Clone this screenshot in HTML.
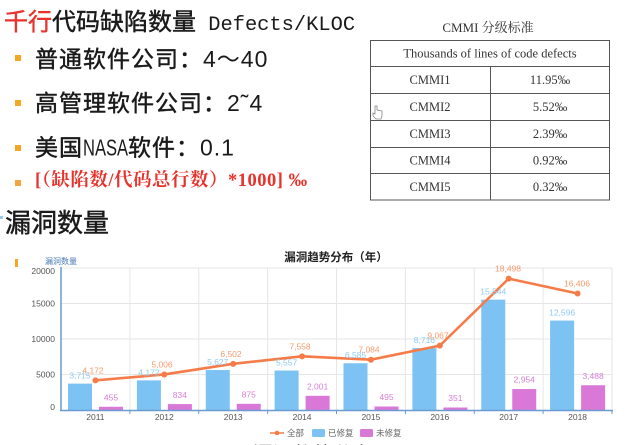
<!DOCTYPE html>
<html><head><meta charset="utf-8"><style>
html,body{margin:0;padding:0;background:#fff;}
body{width:626px;height:445px;overflow:hidden;position:relative;}
svg{display:block;}
</style></head><body>
<svg width="626" height="445" viewBox="0 0 626 445" xmlns="http://www.w3.org/2000/svg">
<rect width="626" height="445" fill="#fff"/>

<!-- Heading -->
<text x="4" y="30" font-size="24" stroke="#1a1a1a" stroke-width="0.45" font-family="'Noto Sans CJK SC', sans-serif" fill="#1a1a1a"><tspan fill="#e8322b" stroke="#e8322b">千行</tspan>代码缺陷数量<tspan font-family="'Liberation Mono', monospace" font-size="20.4" stroke="none"> Defects/KLOC</tspan></text>

<!-- bullets -->
<rect x="15" y="55" width="6" height="6" fill="#f5a623"/>
<rect x="15" y="100" width="6" height="6" fill="#f5a623"/>
<rect x="15" y="145" width="6" height="6" fill="#f5a623"/>
<rect x="15" y="180" width="6" height="6" fill="#f5a540"/>

<g font-size="23" letter-spacing="1" font-family="'Liberation Sans','Noto Sans CJK SC', sans-serif" fill="#1a1a1a">
<text x="35" y="67"><tspan stroke="#1a1a1a" stroke-width="0.45">普通软件公司：</tspan>4～40</text>
<text x="35" y="111"><tspan stroke="#1a1a1a" stroke-width="0.45">高管理软件公司：</tspan>2˜4</text>
<text x="35" y="155.5" stroke="#1a1a1a" stroke-width="0.45">美国</text>
<text x="128" y="155.5"><tspan stroke="#1a1a1a" stroke-width="0.45">软件：</tspan>0.1</text>
</g>
<text x="83" y="155.5" font-size="23" font-family="'Liberation Sans', sans-serif" fill="#1a1a1a" transform="translate(83 0) scale(0.72 1) translate(-83 0)">NASA</text>

<text x="35" y="186" font-size="18.5" font-weight="bold" letter-spacing="0.5" font-family="'Liberation Serif','Noto Serif CJK SC', serif" fill="#e8322b">[（缺陷数/代码总行数）*1000] ‰</text>

<rect x="0" y="216" width="3" height="3" fill="#9cc8e8"/>
<text x="5" y="232" font-size="26" stroke="#1a1a1a" stroke-width="0.45" font-family="'Noto Sans CJK SC', sans-serif" fill="#1a1a1a">漏洞数量</text>

<!-- Table -->
<text x="488" y="32" text-anchor="middle" font-size="13" font-family="'Liberation Serif','Noto Serif CJK SC', serif" fill="#333">CMMI 分级标准</text>
<g stroke="#555" stroke-width="1" fill="none">
<rect x="370.5" y="40.5" width="239" height="159.5"/>
<line x1="370" y1="66.5" x2="610" y2="66.5"/>
<line x1="370" y1="93.5" x2="610" y2="93.5"/>
<line x1="370" y1="120.5" x2="610" y2="120.5"/>
<line x1="370" y1="147.5" x2="610" y2="147.5"/>
<line x1="370" y1="173.5" x2="610" y2="173.5"/>
<line x1="490.5" y1="66" x2="490.5" y2="200"/>
</g>
<g font-family="'Liberation Serif', serif" fill="#333" font-size="12.5" text-anchor="middle">
<text x="490" y="57.5">Thousands of lines of code defects</text>
<text x="430" y="84">CMMI1</text><text x="550" y="84">11.95‰</text>
<text x="430" y="111">CMMI2</text><text x="550" y="111">5.52‰</text>
<text x="430" y="138">CMMI3</text><text x="550" y="138">2.39‰</text>
<text x="430" y="164.5">CMMI4</text><text x="550" y="164.5">0.92‰</text>
<text x="430" y="191">CMMI5</text><text x="550" y="191">0.32‰</text>
</g>
<!-- hand cursor -->
<path d="M375 106 L375 114 L373 113 L373 116 L376 119 L381 119 L382 116 L382 111 L377 110 L377 106 Z" fill="#fff" stroke="#888" stroke-width="0.8"/>

<!-- Chart -->
<rect x="15" y="259" width="3" height="8" fill="#f5a623"/>
<text x="45" y="264" font-size="8" font-family="'Liberation Sans','Noto Sans CJK SC', sans-serif" fill="#4a7ab5">漏洞数量</text>
<text x="336" y="261" text-anchor="middle" font-size="11.5" font-weight="bold" font-family="'Liberation Sans','Noto Sans CJK SC', sans-serif" fill="#222">漏洞趋势分布（年）</text>

<g stroke="#e6e6e6" stroke-width="1">
<line x1="61" y1="268" x2="612" y2="268"/>
<line x1="61" y1="303.5" x2="612" y2="303.5"/>
<line x1="61" y1="339" x2="612" y2="339"/>
<line x1="61" y1="374.5" x2="612" y2="374.5"/>
<line x1="129.9" y1="268" x2="129.9" y2="410"/>
<line x1="198.75" y1="268" x2="198.75" y2="410"/>
<line x1="267.6" y1="268" x2="267.6" y2="410"/>
<line x1="336.5" y1="268" x2="336.5" y2="410"/>
<line x1="405.4" y1="268" x2="405.4" y2="410"/>
<line x1="474.25" y1="268" x2="474.25" y2="410"/>
<line x1="543.1" y1="268" x2="543.1" y2="410"/>
<line x1="612" y1="268" x2="612" y2="410"/>
</g>

<g font-size="8.5" font-family="'Liberation Sans', sans-serif" fill="#555" text-anchor="end">
<text x="55" y="274">20000</text>
<text x="55" y="306.5">15000</text>
<text x="55" y="342">10000</text>
<text x="55" y="377.5">5000</text>
<text x="55" y="410">0</text>
</g>

<!-- bars blue -->
<g fill="#7cc3f4">
<rect x="68" y="383.62" width="24" height="26.38"/>
<rect x="136.9" y="380.38" width="24" height="29.62"/>
<rect x="205.75" y="370.05" width="24" height="39.95"/>
<rect x="274.6" y="370.55" width="24" height="39.45"/>
<rect x="343.5" y="363.25" width="24" height="46.75"/>
<rect x="412.4" y="348.12" width="24" height="61.88"/>
<rect x="481.25" y="299.64" width="24" height="110.36"/>
<rect x="550.1" y="320.57" width="24" height="89.43"/>
</g>
<g fill="#da78d8">
<rect x="99" y="406.77" width="24" height="3.23"/>
<rect x="167.9" y="404.08" width="24" height="5.92"/>
<rect x="236.75" y="403.79" width="24" height="6.21"/>
<rect x="305.6" y="395.79" width="24" height="14.21"/>
<rect x="374.5" y="406.49" width="24" height="3.51"/>
<rect x="443.4" y="407.51" width="24" height="2.49"/>
<rect x="512.25" y="389.03" width="24" height="20.97"/>
<rect x="581.1" y="385.24" width="24" height="24.76"/>
</g>

<!-- axes -->
<g stroke="#6a9bd0" stroke-width="1.5">
<line x1="61" y1="267" x2="61" y2="411"/>
<line x1="60" y1="410.5" x2="613" y2="410.5"/>
</g>
<g stroke="#6a9bd0" stroke-width="1">
<line x1="129.9" y1="410" x2="129.9" y2="414"/>
<line x1="198.75" y1="410" x2="198.75" y2="414"/>
<line x1="267.6" y1="410" x2="267.6" y2="414"/>
<line x1="336.5" y1="410" x2="336.5" y2="414"/>
<line x1="405.4" y1="410" x2="405.4" y2="414"/>
<line x1="474.25" y1="410" x2="474.25" y2="414"/>
<line x1="543.1" y1="410" x2="543.1" y2="414"/>
<line x1="612" y1="410" x2="612" y2="414"/>
</g>

<!-- line -->
<polyline points="95.44,380.38 164.3,374.46 233.2,363.84 302.1,356.34 370.9,359.7 439.8,345.62 508.7,278.66 577.6,293.52" fill="none" stroke="#f57c48" stroke-width="2.6" stroke-linejoin="round"/>
<g fill="#f57c48">
<circle cx="95.44" cy="380.38" r="3"/>
<circle cx="164.3" cy="374.46" r="3"/>
<circle cx="233.2" cy="363.84" r="3"/>
<circle cx="302.1" cy="356.34" r="3"/>
<circle cx="370.9" cy="359.7" r="3"/>
<circle cx="439.8" cy="345.62" r="3"/>
<circle cx="508.7" cy="278.66" r="3"/>
<circle cx="577.6" cy="293.52" r="3"/>
</g>

<!-- value labels -->
<g font-size="8.5" font-family="'Liberation Sans', sans-serif" text-anchor="middle">
<g fill="#8ecbf3">
<text x="80" y="378.6">3,715</text>
<text x="148.9" y="375.4">4,172</text>
<text x="217.75" y="365">5,627</text>
<text x="286.6" y="365.5">5,557</text>
<text x="355.5" y="358.2">6,585</text>
<text x="424.4" y="343.1">8,716</text>
<text x="493.25" y="294.6">15,544</text>
<text x="562.1" y="315.5">12,596</text>
</g>
<g fill="#d77fd6">
<text x="111" y="400.5">455</text>
<text x="179.9" y="397.8">834</text>
<text x="248.75" y="397.5">875</text>
<text x="317.6" y="389.5">2,001</text>
<text x="386.5" y="400.2">495</text>
<text x="455.4" y="401.2">351</text>
<text x="524.25" y="382.7">2,954</text>
<text x="593.1" y="378.9">3,488</text>
</g>
<g fill="#f79a6e">
<text x="93" y="373.4">4,172</text>
<text x="162" y="367.5">5,006</text>
<text x="231" y="356.8">6,502</text>
<text x="300" y="349.3">7,558</text>
<text x="369" y="352.7">7,084</text>
<text x="438" y="338.6">9,067</text>
<text x="508" y="271.7">18,498</text>
<text x="577" y="286.5">16,406</text>
</g>
</g>

<!-- x labels -->
<g font-size="8.5" font-family="'Liberation Sans', sans-serif" fill="#555" text-anchor="middle">
<text x="95.4" y="420">2011</text>
<text x="164.3" y="420">2012</text>
<text x="233.2" y="420">2013</text>
<text x="302.1" y="420">2014</text>
<text x="370.9" y="420">2015</text>
<text x="439.8" y="420">2016</text>
<text x="508.7" y="420">2017</text>
<text x="577.6" y="420">2018</text>
</g>

<!-- legend -->
<line x1="270" y1="433" x2="284" y2="433" stroke="#f57c48" stroke-width="1.5"/>
<circle cx="277" cy="433" r="2.3" fill="#f57c48"/>
<rect x="312" y="429" width="13" height="8" rx="1.5" fill="#7cc3f4"/>
<rect x="360" y="429" width="13" height="8" rx="1.5" fill="#da78d8"/>
<g font-size="8.5" font-family="'Liberation Sans','Noto Sans CJK SC', sans-serif" fill="#666">
<text x="287" y="436">全部</text>
<text x="328" y="436">已修复</text>
<text x="376" y="436">未修复</text>
</g>

<!-- cut-off caption -->
<text x="213" y="461" font-size="20" font-family="'Noto Sans CJK SC', sans-serif" fill="#666">图示漏洞趋势分布图</text>
</svg>
</body></html>
